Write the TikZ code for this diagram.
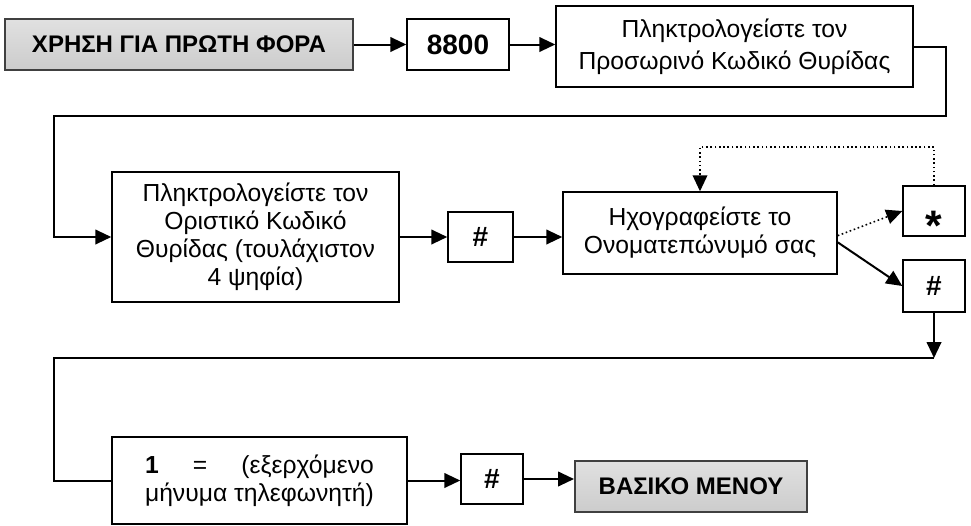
\documentclass[tikz,border=0pt]{standalone}
\usepackage{fontspec}
\setmainfont{Liberation Sans}
\usetikzlibrary{arrows.meta}
\newlength\larg

\begin{document}
\begin{tikzpicture}[x=0.75pt,y=-0.75pt, %1 unidade = 1 pixel da figura, y para baixo
tam/.style 2 args={minimum width=#1*0.75pt,minimum height=#2*0.75pt},
caixa/.style={draw,line width=1.1pt,inner sep=0pt,align=center,font=\fontsize{18.5}{21}\selectfont},
caixacinza/.style={caixa,draw=black!75,line width=1.5pt,top color=black!12,middle color=white,bottom color=black!20,font=\fontsize{18}{21}\selectfont\bfseries},
tecla/.style={caixa,font=\fontsize{21}{21}\selectfont\bfseries},
seta/.style={line width=1.5pt,-{Triangle[length=12pt,width=11pt]}},
linha/.style={line width=1.5pt},
pontilhado/.style={seta,line width=1.2pt,dotted}]

\useasboundingbox (0,0) rectangle (971,525);

%Pontos de dobra das ligacoes (x/y em pixels)
\coordinate (c1) at (946,116);
\coordinate (c2) at (54,116);
\coordinate (c3) at (700,147);
\coordinate (c4) at (934,358);
\coordinate (c5) at (54,358);

%Primeira linha
%---------------------------------------------------
\node[caixacinza,tam={348}{51}] (inicio) at (179,44.5) {ΧΡΗΣΗ ΓΙΑ ΠΡΩΤΗ ΦΟΡΑ};
\node[tecla,tam={102}{51}] (codigo) at (458,44.5) {8800};
\node[caixa,tam={357}{81}] (temporario) at (734.5,46.5) {Πληκτρολογείστε τον\\[3pt]Προσωρινό Κωδικό Θυρίδας};
%---------------------------------------------------

%Segunda linha
%---------------------------------------------------
\node[caixa,tam={287}{130}] (definitivo) at (255.5,237) {Πληκτρολογείστε τον\\Οριστικό Κωδικό\\Θυρίδας (τουλάχιστον\\4 ψηφία)};
\node[tecla,tam={65}{50}] (cerquilhaA) at (480.5,237) {\#};
\node[caixa,tam={274}{82}] (nome) at (700,233) {Ηχογραφείστε το\\Ονοματεπώνυμό σας};
\node[tecla,tam={62}{50},font=\fontsize{32}{32}\selectfont\bfseries] (asterisco) at (934,211) {\raisebox{-22pt}[0pt][0pt]{*}};
\node[tecla,tam={62}{52}] (cerquilhaB) at (934,286) {\#};
%---------------------------------------------------

%Terceira linha
%---------------------------------------------------
\node[caixa,tam={295}{87}] (mensagem) at (259.5,480.5) {\settowidth\larg{μήνυμα τηλεφωνητή)}\makebox[\larg][s]{\textbf{1} = (εξερχόμενο}\\μήνυμα τηλεφωνητή)};
\node[tecla,tam={62}{50}] (cerquilhaC) at (492,479) {\#};
\node[caixacinza,tam={232}{51}] (menu) at (691,486.5) {ΒΑΣΙΚΟ ΜΕΝΟΥ};
%---------------------------------------------------

%Ligacoes
%---------------------------------------------------
\draw[seta] (inicio.east) -- (codigo.west);
\draw[seta] (codigo.east) -- (codigo.east -| temporario.west);
\draw[seta] (temporario.east) -| (c1) -- (c2) |- (definitivo.west);
\draw[seta] (definitivo.east) -- (definitivo.east -| cerquilhaA.west);
\draw[seta] (cerquilhaA.east) -- (cerquilhaA.east -| nome.west);
\draw[pontilhado] ([yshift=-2pt]nome.east) -- (asterisco.west);
\draw[pontilhado] (asterisco.north) |- (c3) -- (nome.north);
\draw[seta] ([yshift=-7pt]nome.east) -- (cerquilhaB.west);
\draw[seta] (cerquilhaB.south) -- (c4);
\draw[linha] (c4) -- (c5) |- (mensagem.west);
\draw[seta] (mensagem.east) -- (mensagem.east -| cerquilhaC.west);
\draw[seta] (cerquilhaC.east) -- (cerquilhaC.east -| menu.west);

\end{tikzpicture}
\end{document}
